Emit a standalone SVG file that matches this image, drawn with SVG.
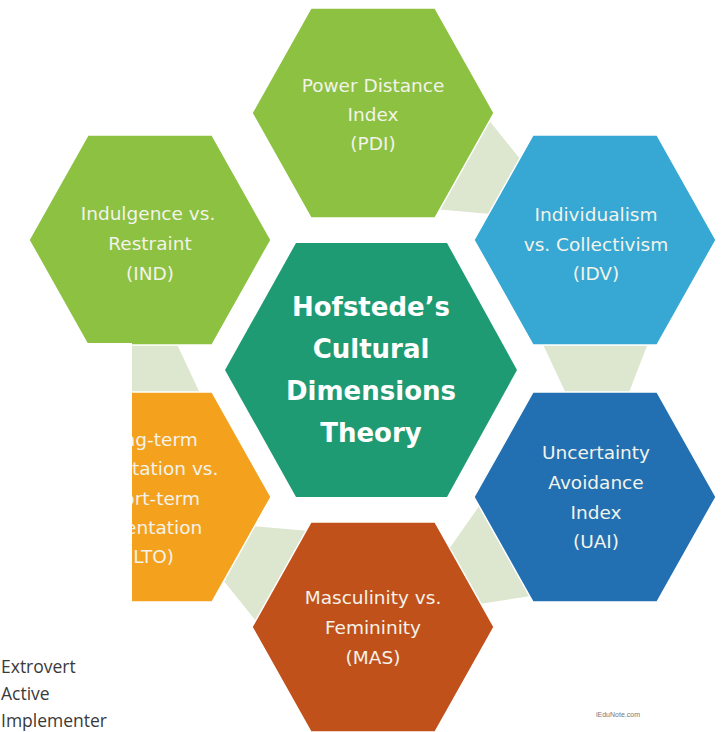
<svg xmlns="http://www.w3.org/2000/svg" xmlns:xlink="http://www.w3.org/1999/xlink" width="725" height="732" viewBox="0 0 725 732">
<style>
  .hex { stroke: #ffffff; stroke-width: 1.5; }
  .lbl { font-family: "DejaVu Sans", Verdana, sans-serif; font-size: 18.5px; fill: #f3f3ea; text-anchor: middle; }
  .title { font-family: "DejaVu Sans", Verdana, sans-serif; font-size: 26px; font-weight: bold; fill: #ffffff; text-anchor: middle; }
  .gap { fill: #dde6cf; }
  .side { font-family: "Open Sans", "Liberation Sans", sans-serif; font-size: 17.5px; fill: #3a3a3a; }
  .mark { font-family: "Liberation Sans", Arial, sans-serif; font-size: 7px; fill: #777777; }
</style>
<defs>
  <polygon id="hexOuter" points="-121,0 -62,-105 62,-105 121,0 62,105 -62,105"/>
  <polygon id="gapShape" points="540,338 650,338 626,400 569,400"/>
</defs>
<rect width="725" height="732" fill="#ffffff"/>

<g id="connectors">
  <use xlink:href="#gapShape" class="gap" transform="rotate(-60 372 370)"/>
  <use xlink:href="#gapShape" class="gap"/>
  <use xlink:href="#gapShape" class="gap" transform="rotate(60 372 370)"/>
  <use xlink:href="#gapShape" class="gap" transform="rotate(120 372 370)"/>
  <use xlink:href="#gapShape" class="gap" transform="rotate(180 372 370)"/>
</g>

<g id="node-pdi">
  <use xlink:href="#hexOuter" class="hex" x="373" y="113" fill="#8cc142"/>
  <text class="lbl" x="373" y="92">Power Distance</text>
  <text class="lbl" x="373" y="121">Index</text>
  <text class="lbl" x="373" y="150">(PDI)</text>
</g>

<g id="node-ind">
  <use xlink:href="#hexOuter" class="hex" x="150" y="240" fill="#8cc142"/>
  <text class="lbl" x="148" y="220">Indulgence vs.</text>
  <text class="lbl" x="150" y="250">Restraint</text>
  <text class="lbl" x="150" y="280">(IND)</text>
</g>

<g id="node-idv">
  <use xlink:href="#hexOuter" class="hex" x="595" y="240" fill="#36a8d3"/>
  <text class="lbl" x="596" y="221">Individualism</text>
  <text class="lbl" x="596" y="251">vs. Collectivism</text>
  <text class="lbl" x="596" y="280">(IDV)</text>
</g>

<g id="node-uai">
  <use xlink:href="#hexOuter" class="hex" x="595" y="497" fill="#2270b2"/>
  <text class="lbl" x="596" y="459">Uncertainty</text>
  <text class="lbl" x="596" y="489">Avoidance</text>
  <text class="lbl" x="596" y="519">Index</text>
  <text class="lbl" x="596" y="548">(UAI)</text>
</g>

<g id="node-mas">
  <use xlink:href="#hexOuter" class="hex" x="373" y="627" fill="#c1511b"/>
  <text class="lbl" x="373" y="604">Masculinity vs.</text>
  <text class="lbl" x="373" y="634">Femininity</text>
  <text class="lbl" x="373" y="664">(MAS)</text>
</g>

<g id="node-lto">
  <use xlink:href="#hexOuter" class="hex" x="150" y="497" fill="#f4a11e"/>
  <text class="lbl" x="150" y="446">Long-term</text>
  <text class="lbl" x="150" y="475">Orientation vs.</text>
  <text class="lbl" x="150" y="505">Short-term</text>
  <text class="lbl" x="150" y="534">Orientation</text>
  <text class="lbl" x="150" y="563">(LTO)</text>
</g>

<g id="node-center">
  <polygon points="225,370 296,243 447,243 517,370 447,497 296,497" fill="#1f9b73"/>
  <text class="title" x="371" y="316">Hofstede’s</text>
  <text class="title" x="371" y="358">Cultural</text>
  <text class="title" x="371" y="400">Dimensions</text>
  <text class="title" x="371" y="442">Theory</text>
</g>

<g id="overlay">
  <rect x="0" y="343" width="132" height="389" fill="#ffffff"/>
  <text class="side" x="1" y="673">Extrovert</text>
  <text class="side" x="1" y="700">Active</text>
  <text class="side" x="1" y="727">Implementer</text>
  <text class="mark" x="596" y="717">iEduNote.com</text>
</g>
</svg>
